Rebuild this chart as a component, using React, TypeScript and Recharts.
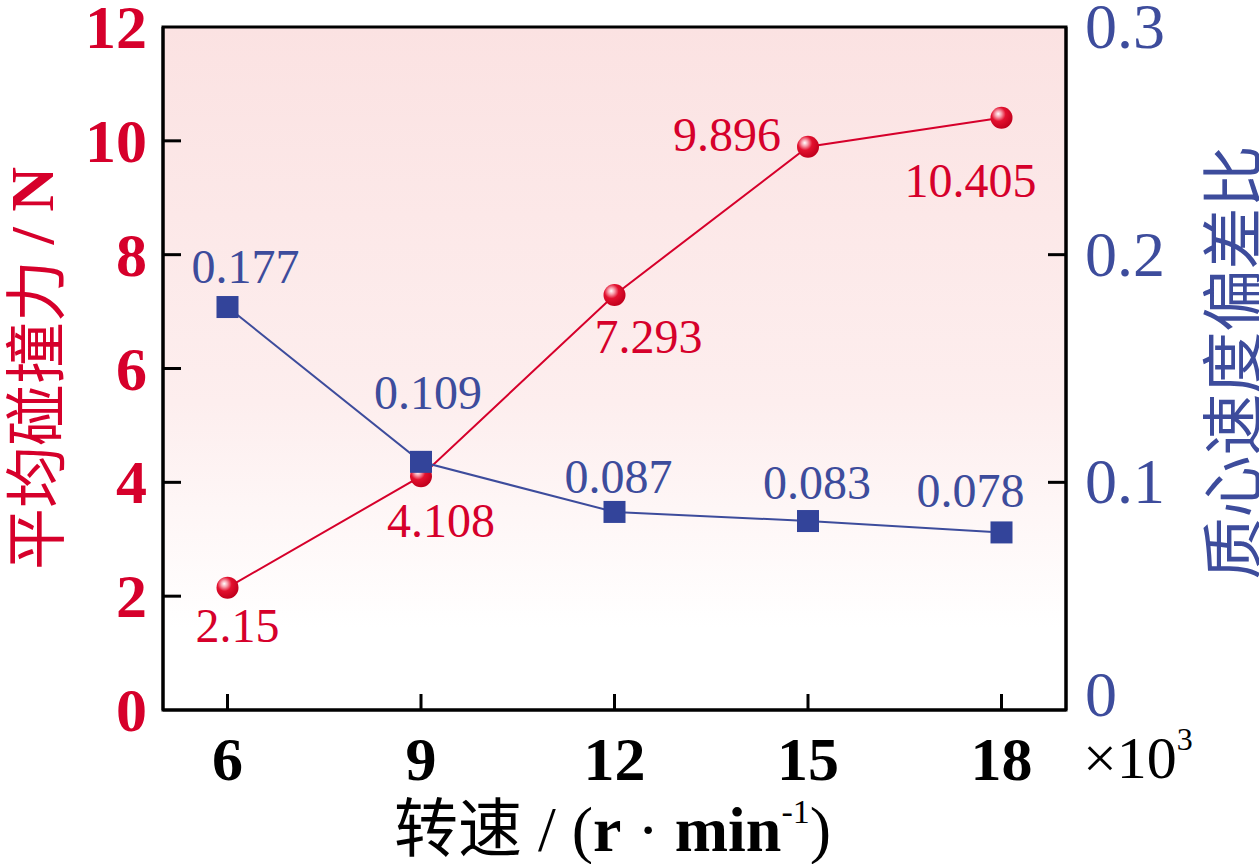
import { LineChart, Line, XAxis, YAxis, ReferenceArea, LabelList } from "recharts";

const speeds = [6, 9, 12, 15, 18];
const avgForce = [2.15, 4.108, 7.293, 9.896, 10.405];
const speedRatio = [0.177, 0.109, 0.087, 0.083, 0.078];
const forceLabels = ["2.15", "4.108", "7.293", "9.896", "10.405"];
const ratioLabels = ["0.177", "0.109", "0.087", "0.083", "0.078"];

const xTicks = [6, 9, 12, 15, 18];
const leftTicks = [0, 2, 4, 6, 8, 10, 12];
const rightTicks = [0, 0.1, 0.2, 0.3];

// label placement relative to each point (dx, baseline dy)
const forceLabelPos = [
  [10, 54],
  [20, 61],
  [34, 58],
  [-81, 4],
  [-31, 79],
];
const ratioLabelPos = [
  [18, -24],
  [7, -53],
  [4, -19],
  [9, -22],
  [-31, -25],
];

const RED = "#d6002b";
const BLUE = "#3d4c9c";
const SERIF = "'Liberation Serif', 'Times New Roman', serif";
const CJK = "'Noto Sans CJK SC', sans-serif";

const data = speeds.map((s, i) => ({ speed: s, force: avgForce[i], ratio: speedRatio[i] }));

function XTick({ x, y, payload }: any) {
  return (
    <g>
      <line x1={x} y1={y} x2={x} y2={y - 16} stroke="#000" strokeWidth={3} />
      <text x={x} y={y + 70} textAnchor="middle" fontFamily={SERIF} fontWeight="bold" fontSize={62} fill="#000">
        {payload.value}
      </text>
    </g>
  );
}

function LeftTick({ x, y, payload }: any) {
  const v = payload.value;
  return (
    <g>
      {v > 0 && v < 12 && <line x1={x} y1={y} x2={x + 18} y2={y} stroke="#000" strokeWidth={3} />}
      <text x={x - 16} y={y + 21} textAnchor="end" fontFamily={SERIF} fontWeight="bold" fontSize={62} fill={RED}>
        {v}
      </text>
    </g>
  );
}

function RightTick({ x, y, payload }: any) {
  const v = payload.value;
  return (
    <g>
      {v > 0 && v < 0.3 && <line x1={x} y1={y} x2={x - 18} y2={y} stroke="#000" strokeWidth={3} />}
      <text x={x + 19} y={y + 21 - (v === 0 ? 15 : 0)} textAnchor="start" fontFamily={SERIF} fontSize={64} fill={BLUE}>
        {v}
      </text>
    </g>
  );
}

function SphereDot({ cx, cy }: any) {
  if (cx == null || cy == null) return null;
  return <circle cx={cx} cy={cy} r={11} fill="url(#sphere)" />;
}

function SquareDot({ cx, cy }: any) {
  if (cx == null || cy == null) return null;
  return <rect x={cx - 11} y={cy - 11} width={22} height={22} fill="#33449a" />;
}

function pointLabel(texts: string[], pos: number[][], color: string) {
  return (p: any) => {
    const i = p.index;
    return (
      <text
        x={p.x + pos[i][0]}
        y={p.y + pos[i][1]}
        textAnchor="middle"
        fontFamily={SERIF}
        fontSize={48}
        fill={color}
      >
        {texts[i]}
      </text>
    );
  };
}

function LeftAxisLabel({ viewBox }: any) {
  const cx = viewBox.x + 32;
  const cy = viewBox.y + viewBox.height / 2;
  return (
    <text x={cx} y={cy} transform={`rotate(-90 ${cx} ${cy})`} textAnchor="middle" dominantBaseline="central" fill={RED} fontSize={62}>
      <tspan fontFamily={CJK}>平均碰撞力</tspan>
      <tspan fontFamily={SERIF} fontWeight="bold"> / N</tspan>
    </text>
  );
}

function RightAxisLabel({ viewBox }: any) {
  const cx = viewBox.x + 163;
  const cy = viewBox.y + viewBox.height / 2 - 6;
  return (
    <text x={cx} y={cy} transform={`rotate(-90 ${cx} ${cy})`} textAnchor="middle" dominantBaseline="central" fill={BLUE} fontSize={62} fontFamily={CJK}>
      质心速度偏差比
    </text>
  );
}

function XAxisLabel({ viewBox }: any) {
  const cx = viewBox.x + viewBox.width / 2 - 2;
  const base = viewBox.y + 141;
  return (
    <g>
      <text x={cx} y={base} textAnchor="middle" fill="#000" fontSize={64}>
        <tspan fontFamily={CJK} fontSize={64}>转速</tspan>
        <tspan fontFamily={SERIF}> / (</tspan>
        <tspan fontFamily={SERIF} fontWeight="bold">r</tspan>
        <tspan fontFamily={SERIF}> · </tspan>
        <tspan fontFamily={SERIF} fontWeight="bold">min</tspan>
        <tspan fontFamily={SERIF} fontSize={34} dy={-28}>-1</tspan>
        <tspan fontFamily={SERIF} dy={28}>)</tspan>
      </text>
      <text x={viewBox.x + viewBox.width + 17} y={viewBox.y + 68} textAnchor="start" fill="#000" fontSize={60} fontFamily={SERIF}>
        <tspan>×10</tspan>
        <tspan fontSize={32} dy={-28}>3</tspan>
      </text>
    </g>
  );
}

export default function App() {
  return (
    <div style={{ position: "absolute", left: 0, top: 0, width: 1259, height: 864, background: "#fff" }}>
      <LineChart width={1259} height={864} data={data} margin={{ top: 27, right: 0, left: 0, bottom: 0 }}>
        <defs>
          <linearGradient id="plotBg" x1="0" y1="0" x2="0" y2="1">
            <stop offset="0%" stopColor="#fbe2e2" />
            <stop offset="55%" stopColor="#fdeeee" />
            <stop offset="88%" stopColor="#ffffff" />
          </linearGradient>
          <radialGradient id="sphere" cx="38%" cy="35%" r="65%" fx="35%" fy="32%">
            <stop offset="0%" stopColor="#ffffff" />
            <stop offset="22%" stopColor="#f7a0ad" />
            <stop offset="50%" stopColor="#e3112f" />
            <stop offset="100%" stopColor="#c2001d" />
          </radialGradient>
        </defs>

        <XAxis
          dataKey="speed"
          type="number"
          domain={[5, 19]}
          ticks={xTicks}
          height={154}
          tickSize={0}
          tickMargin={0}
          tickLine={false}
          axisLine={{ stroke: "#000", strokeWidth: 3 }}
          tick={<XTick />}
          label={<XAxisLabel />}
          allowDataOverflow
        />
        <YAxis
          yAxisId="left"
          orientation="left"
          domain={[0, 12]}
          ticks={leftTicks}
          width={163}
          tickSize={0}
          tickMargin={0}
          tickLine={false}
          axisLine={{ stroke: "#000", strokeWidth: 3 }}
          tick={<LeftTick />}
          label={<LeftAxisLabel />}
          interval={0}
        />
        <YAxis
          yAxisId="right"
          orientation="right"
          domain={[0, 0.3]}
          ticks={rightTicks}
          width={193}
          tickSize={0}
          tickMargin={0}
          tickLine={false}
          axisLine={{ stroke: "#000", strokeWidth: 3 }}
          tick={<RightTick />}
          label={<RightAxisLabel />}
          interval={0}
        />

        <ReferenceArea
          yAxisId="left"
          x1={5}
          x2={19}
          y1={0}
          y2={12}
          fill="url(#plotBg)"
          fillOpacity={1}
          stroke="#000"
          strokeWidth={3}
        />

        <Line
          yAxisId="left"
          dataKey="force"
          type="linear"
          stroke={RED}
          strokeWidth={2}
          dot={<SphereDot />}
          activeDot={false}
          isAnimationActive={false}
        >
          <LabelList dataKey="force" content={pointLabel(forceLabels, forceLabelPos, RED)} />
        </Line>
        <Line
          yAxisId="right"
          dataKey="ratio"
          type="linear"
          stroke={BLUE}
          strokeWidth={2}
          dot={<SquareDot />}
          activeDot={false}
          isAnimationActive={false}
        >
          <LabelList dataKey="ratio" content={pointLabel(ratioLabels, ratioLabelPos, BLUE)} />
        </Line>
      </LineChart>
    </div>
  );
}
